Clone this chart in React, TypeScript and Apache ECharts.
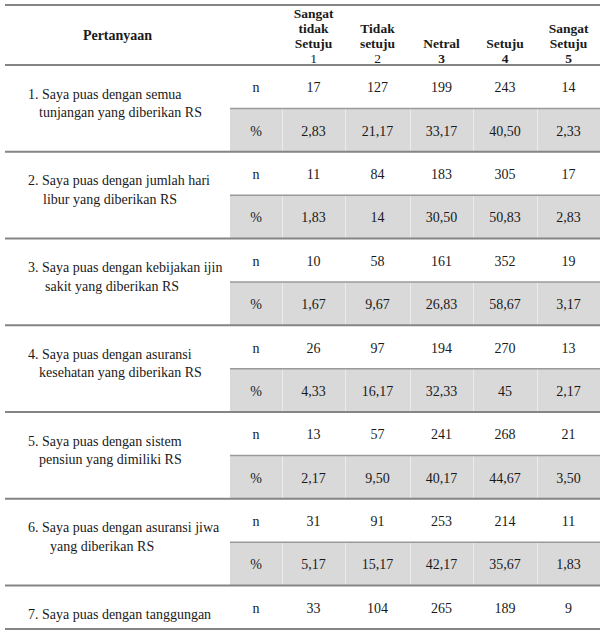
import React, { useEffect, useRef } from "react";
import * as echarts from "echarts";

// ---------------- data ----------------
const headerTitle = "Pertanyaan";
const scaleHeaders = [
  ["Sangat", "tidak", "Setuju", "1"],
  ["Tidak", "setuju", "2"],
  ["Netral", "3"],
  ["Setuju", "4"],
  ["Sangat", "Setuju", "5"],
];
const scaleNumberBold = [false, false, true, true, true];
const questions = [
  ["1. Saya puas dengan semua", "tunjangan yang diberikan RS"],
  ["2. Saya puas dengan jumlah hari", "libur yang diberikan RS"],
  ["3. Saya puas dengan kebijakan ijin", "sakit yang diberikan RS"],
  ["4. Saya puas dengan asuransi", "kesehatan yang diberikan RS"],
  ["5. Saya puas dengan sistem", "pensiun yang dimiliki RS"],
  ["6. Saya puas dengan asuransi jiwa", "yang diberikan RS"],
  ["7. Saya puas dengan tanggungan"],
];
const statLabels = ["n", "%"];
const nCounts = [
  [17, 127, 199, 243, 14],
  [11, 84, 183, 305, 17],
  [10, 58, 161, 352, 19],
  [26, 97, 194, 270, 13],
  [13, 57, 241, 268, 21],
  [31, 91, 253, 214, 11],
  [33, 104, 265, 189, 9],
];
const percentages = [
  ["2,83", "21,17", "33,17", "40,50", "2,33"],
  ["1,83", "14", "30,50", "50,83", "2,83"],
  ["1,67", "9,67", "26,83", "58,67", "3,17"],
  ["4,33", "16,17", "32,33", "45", "2,17"],
  ["2,17", "9,50", "40,17", "44,67", "3,50"],
  ["5,17", "15,17", "42,17", "35,67", "1,83"],
];

// ---------------- layout / style ----------------
const FONT = "Liberation Serif, Times New Roman, serif";
const COL_EDGES = [0, 225, 277, 340, 405, 468, 532, 595];
const HEADER_UNITS = 1.385;
const BODY_ROWS = 13;
const WRAP_INDENT = [34, 38, 40, 34, 34, 45, 34];
const BODY_SIZE = 14;
const HEAD_SIZE = 13.5;

type Cell = {
  kind: string;
  col: number;
  row: number;
  lines: string[];
  bold?: boolean[];
  q?: number;
};

function buildCells(): Cell[] {
  const cells: Cell[] = [];
  cells.push({ kind: "title", col: 0, row: -HEADER_UNITS / 2, lines: [headerTitle] });
  scaleHeaders.forEach((lines, i) =>
    cells.push({
      kind: "scale",
      col: i + 2,
      row: 0,
      lines,
      bold: lines.map((_, j) => j < lines.length - 1 || scaleNumberBold[i]),
    })
  );
  questions.forEach((lines, q) => cells.push({ kind: "question", col: 0, row: 2 * q, lines, q }));
  nCounts.forEach((vals, q) => {
    cells.push({ kind: "value", col: 1, row: 2 * q + 0.5, lines: [statLabels[0]] });
    vals.forEach((v, i) => cells.push({ kind: "value", col: i + 2, row: 2 * q + 0.5, lines: [String(v)] }));
  });
  percentages.forEach((vals, q) => {
    cells.push({ kind: "value", col: 1, row: 2 * q + 1.5, lines: [statLabels[1]] });
    vals.forEach((v, i) => cells.push({ kind: "value", col: i + 2, row: 2 * q + 1.5, lines: [v] }));
  });
  return cells;
}

type Rule = { y: number; x0: number; x1: number; w: number; color: string };
function buildRules(): Rule[] {
  const rules: Rule[] = [];
  const full = { x0: COL_EDGES[0], x1: COL_EDGES[COL_EDGES.length - 1], w: 2, color: "#858585" };
  rules.push({ y: -HEADER_UNITS, ...full });
  rules.push({ y: 0, ...full });
  questions.forEach((_, q) => {
    if (q > 0) rules.push({ y: 2 * q, ...full });
  });
  rules.push({ y: BODY_ROWS, ...full });
  percentages.forEach((_, q) =>
    rules.push({ y: 2 * q + 1, x0: COL_EDGES[1], x1: COL_EDGES[7], w: 1.5, color: "#9a9a9a" })
  );
  return rules;
}

function txt(x: number, y: number, text: string, opts: any = {}) {
  const align = opts.align || "center";
  const size = opts.size || BODY_SIZE;
  const weight = opts.bold ? "bold" : "normal";
  return {
    type: "text",
    x,
    y,
    style: {
      legacy: false,
      text,
      fill: "#1a1a1a",
      fontFamily: FONT,
      fontSize: size,
      fontWeight: weight,
      align,
      verticalAlign: "middle",
    },
  };
}

export default function App() {
  const ref = useRef<HTMLDivElement>(null);
  useEffect(() => {
    if (!ref.current) return;
    const chart = echarts.init(ref.current, null, { renderer: "svg" });
    const cells = buildCells();
    const rules = buildRules();
    const bands = percentages.map((_, q) => 2 * q + 1);

    chart.setOption({
      animation: false,
      backgroundColor: "#ffffff",
      textStyle: { fontFamily: FONT },
      grid: { left: 5, top: 5, width: 595, height: 624, containLabel: false },
      xAxis: { type: "value", min: COL_EDGES[0], max: COL_EDGES[7], show: false },
      yAxis: { type: "value", min: -HEADER_UNITS, max: BODY_ROWS, inverse: true, show: false },
      series: [
        {
          type: "custom",
          name: "bands",
          silent: true,
          clip: false,
          z: 1,
          data: bands.map((r) => [COL_EDGES[1], r]),
          renderItem: (params: any, api: any) => {
            const row = bands[params.dataIndex];
            const tl = api.coord([COL_EDGES[1], row]);
            const br = api.coord([COL_EDGES[7], row + 1]);
            const children: any[] = [
              {
                type: "rect",
                shape: { x: tl[0], y: tl[1], width: br[0] - tl[0], height: br[1] - tl[1] },
                style: { fill: "#d9d9d9" },
              },
            ];
            for (let c = 2; c < 7; c++) {
              const x = Math.round(api.coord([COL_EDGES[c], row])[0]) + 0.5;
              children.push({
                type: "line",
                shape: { x1: x, y1: tl[1], x2: x, y2: br[1] },
                style: { stroke: "#ececec", lineWidth: 1 },
              });
            }
            return { type: "group", children };
          },
        },
        {
          type: "custom",
          name: "rules",
          silent: true,
          clip: false,
          z: 3,
          data: rules.map((r) => [r.x0, r.y]),
          renderItem: (params: any, api: any) => {
            const r = rules[params.dataIndex];
            const a = api.coord([r.x0, r.y]);
            const b = api.coord([r.x1, r.y]);
            return {
              type: "line",
              shape: { x1: a[0], y1: a[1], x2: b[0], y2: b[1] },
              style: { stroke: r.color, lineWidth: r.w },
            };
          },
        },
        {
          type: "custom",
          name: "cells",
          silent: true,
          clip: false,
          z: 5,
          data: cells.map((c) => [(COL_EDGES[c.col] + COL_EDGES[c.col + 1]) / 2, c.row]),
          renderItem: (params: any, api: any) => {
            const c = cells[params.dataIndex];
            const cx = (COL_EDGES[c.col] + COL_EDGES[c.col + 1]) / 2;
            if (c.kind === "title") {
              const p = api.coord([cx, c.row]);
              return txt(p[0], p[1], c.lines[0], { bold: true, size: 14 });
            }
            if (c.kind === "scale") {
              const p = api.coord([cx, 0]);
              const n = c.lines.length;
              return {
                type: "group",
                children: c.lines.map((l, j) =>
                  txt(p[0], p[1] - 7 - (n - 1 - j) * 15, l, { bold: c.bold![j], size: HEAD_SIZE })
                ),
              };
            }
            if (c.kind === "question") {
              const left = api.coord([COL_EDGES[0], c.row])[0];
              const top = api.coord([COL_EDGES[0], c.row])[1];
              return {
                type: "group",
                children: c.lines.map((l, j) =>
                  txt(left + (j === 0 ? 23 : WRAP_INDENT[c.q!]), top + 29 + j * 18.5, l, { align: "left" })
                ),
              };
            }
            const p = api.coord([cx, c.row]);
            return txt(p[0], p[1] + 1, c.lines[0]);
          },
        },
      ],
    });
    return () => chart.dispose();
  }, []);
  return (
    <div
      ref={ref}
      style={{ position: "fixed", left: 0, top: 0, width: 605, height: 635, background: "#fff" }}
    />
  );
}
